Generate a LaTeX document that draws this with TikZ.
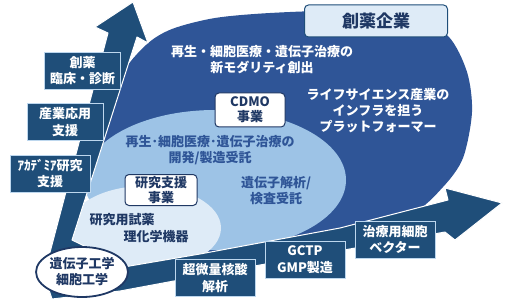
\documentclass[tikz,border=0pt]{standalone}
\usepackage{fontspec}
\setmainfont{Noto Sans CJK JP}
\usetikzlibrary{shapes.geometric}

\definecolor{arrownavy}{HTML}{1F4E79}
\definecolor{textnavy}{HTML}{1F3864}
\definecolor{blobblue}{HTML}{2F5597}
\definecolor{midblue}{HTML}{9DC3E6}
\definecolor{paleblue}{HTML}{DEEBF7}
\definecolor{edgegray}{HTML}{BDD7EE}

\newcommand*{\boxw}{76pt}
\newcommand*{\boxh}{37pt}
\newcommand*{\jpsize}[2]{\fontsize{#1}{#2}\selectfont\bfseries}

\begin{document}
\begin{tikzpicture}
[
	x=1pt,y=-1pt,
	armbox/.style={draw=edgegray,fill=arrownavy,text=white,line width=0.8pt,minimum width=\boxw,minimum height=\boxh,inner sep=1pt,align=center,font=\jpsize{13}{16.5}},
	bizbox/.style={draw=textnavy,fill=white,text=textnavy,line width=1pt,rounded corners=4pt,inner sep=1pt,align=center,font=\jpsize{13}{15}},
	areatext/.style={align=center,inner sep=0pt,font=\jpsize{13}{16}}
]
	\useasboundingbox (0,0) rectangle (510,299);

	% nested fields
	\begin{scope}
		\clip (137,37) -- (72,240) -- (105,256) -- (118,268) -- (200,254) -- (340,228) -- (448,200) -- (510,200) -- (510,0) -- (160,0) -- cycle;
		\fill[blobblue] plot[smooth cycle] coordinates {(120,78) (146,45) (172,29) (215,18) (270,13) (340,11) (410,17) (448,36) (467,72) (472,112) (463,158) (443,187) (410,215) (330,245) (200,270) (100,270) (95,150)};
		\fill[midblue] (215,180) ellipse [x radius=131pt, y radius=70pt];
		\fill[paleblue] (145,228) ellipse [x radius=76pt, y radius=42pt];
	\end{scope}

	% growth arrows
	\filldraw[fill=arrownavy,draw=white,line width=1pt,line join=round]
		(133,2) -- (148,43) -- (137,37) -- (72,240) -- (105,256) -- (118,268) -- (200,254) -- (340,228) -- (448,200) -- (445,188) -- (502,203) -- (455,240) -- (445,232) -- (260,265) -- (120,291) -- (52,299) -- (44,275) -- (108,33) -- (95,27) -- cycle;

	% field labels
	\node[areatext,text=white] (modality) at (262,60) {再生・細胞医療・遺伝子治療の\\新モダリティ創出};
	\node[areatext,text=white] (platform) at (378,111) {ライフサイエンス産業の\\インフラを担う\\プラットフォーマー};
	\node[areatext,text=blobblue] (contract) at (210,150) {再生･細胞医療･遺伝子治療の\\開発/製造受託};
	\node[areatext,text=blobblue] (analysis) at (276,191) {遺伝子解析/\\検査受託};
	\node[areatext,text=textnavy] (reagent) at (122,220) {研究用試薬};
	\node[areatext,text=textnavy] (instrument) at (156,237) {理化学機器};

	% business boxes
	\node[bizbox,fill=paleblue,draw=arrownavy,minimum width=143pt,minimum height=32pt,font=\jpsize{17}{20}] (pharma) at (376,21) {創薬企業};
	\node[bizbox,minimum width=70pt,minimum height=34pt] (cdmo) at (250,110) {CDMO\\事業};
	\node[bizbox,minimum width=72pt,minimum height=31pt] (research) at (161,190) {研究支援\\事業};
	\node[draw=textnavy,fill=white,text=textnavy,ellipse,line width=1.8pt,minimum width=74pt,minimum height=50pt,inner sep=0pt,align=center,font=\jpsize{13}{16}] (engineering) at (82,272) {遺伝子工学\\細胞工学};

	% arrow captions
	\node[armbox] (clinic) at (82.5,70.5) {創薬\\臨床・診断};
	\node[armbox] (industry) at (65,122) {産業応用\\支援};
	\node[armbox,minimum width=80pt] (academia) at (50,173.5) {ｱｶﾃﾞﾐｱ研究\\支援};
	\node[armbox,minimum width=80pt] (nucleic) at (215,278) {超微量核酸\\解析};
	\node[armbox,minimum width=80pt] (gmp) at (305,259.5) {GCTP\\GMP製造};
	\node[armbox,minimum width=80pt] (vector) at (395,239.5) {治療用細胞\\ベクター};

\end{tikzpicture}
\end{document}
